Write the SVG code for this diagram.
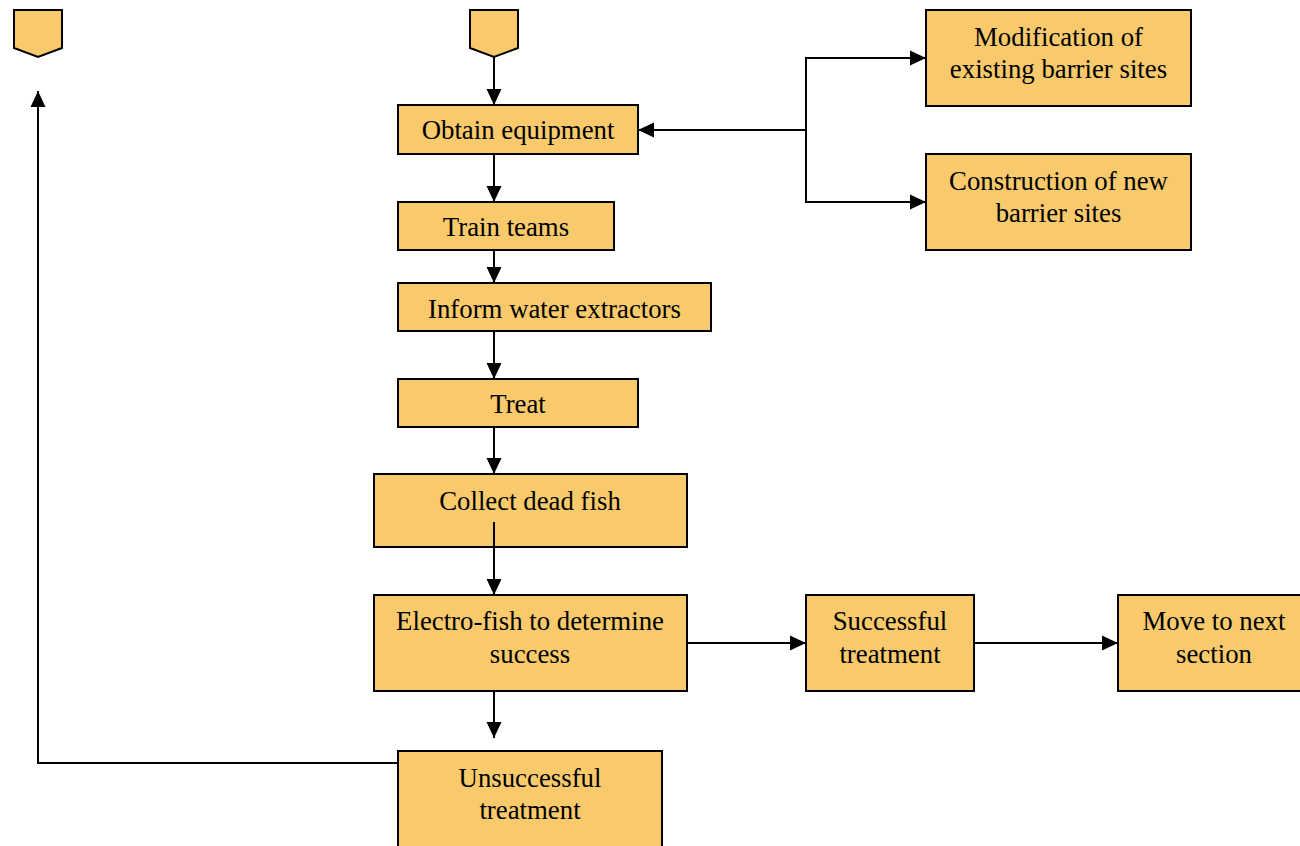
<svg xmlns="http://www.w3.org/2000/svg" width="1300" height="846" viewBox="0 0 1300 846">
  <style>
    .box { fill: #F8CA6C; stroke: #000; stroke-width: 2; }
    .lbl { font-family: "Liberation Serif", "Times New Roman", serif; font-size: 26.8px; fill: #000; text-anchor: middle; }
    .wire { fill: none; stroke: #000; stroke-width: 2; }
    .arrow { marker-end: url(#head); }
  </style>
  <defs>
    <marker id="head" markerUnits="userSpaceOnUse" markerWidth="16" markerHeight="16" viewBox="0 0 16 16" refX="16" refY="8" orient="auto">
      <path d="M0,0.5 L16,8 L0,15.5 Z" fill="#000"/>
    </marker>
  </defs>
  <rect width="1300" height="846" fill="#fff"/>

  <!-- connectors -->
  <g id="connectors">
    <path class="wire arrow" d="M494,57 V105"/>
    <path class="wire arrow" d="M494,154 V202"/>
    <path class="wire arrow" d="M494,250 V283"/>
    <path class="wire arrow" d="M494,331 V379"/>
    <path class="wire arrow" d="M494,427 V474"/>
    <path class="wire arrow" d="M806,130 H638"/>
    <path class="wire arrow" d="M806,130 V58 H926"/>
    <path class="wire arrow" d="M806,130 V202 H926"/>
    <path class="wire arrow" d="M687,643 H806"/>
    <path class="wire arrow" d="M974,643 H1118"/>
    <path class="wire arrow" d="M494,691 V738"/>
    <path class="wire arrow" d="M398,763 H38 V91"/>
  </g>

  <!-- off-page markers -->
  <g id="offpage-left">
    <path class="box" d="M14,10 H62 V48 L38,57 L14,48 Z"/>
  </g>
  <g id="offpage-top">
    <path class="box" d="M470,10 H518 V48 L494,57 L470,48 Z"/>
  </g>

  <g id="obtain-equipment">
    <rect class="box" x="398" y="105" width="240" height="49"/>
    <text class="lbl" x="518" y="139">Obtain equipment</text>
  </g>
  <g id="train-teams">
    <rect class="box" x="398" y="202" width="216" height="48"/>
    <text class="lbl" x="506" y="236">Train teams</text>
  </g>
  <g id="inform-water-extractors">
    <rect class="box" x="398" y="283" width="313" height="48"/>
    <text class="lbl" x="554.5" y="318">Inform water extractors</text>
  </g>
  <g id="treat">
    <rect class="box" x="398" y="379" width="240" height="48"/>
    <text class="lbl" x="518" y="413">Treat</text>
  </g>
  <g id="collect-dead-fish">
    <rect class="box" x="374" y="474" width="313" height="73"/>
    <text class="lbl" x="530" y="510">Collect dead fish</text>
    <path class="wire arrow" d="M494,522 V595"/>
  </g>
  <g id="electro-fish">
    <rect class="box" x="374" y="595" width="313" height="96"/>
    <text class="lbl" x="530" y="630">Electro-fish to determine</text>
    <text class="lbl" x="530" y="663">success</text>
  </g>
  <g id="successful-treatment">
    <rect class="box" x="806" y="595" width="168" height="96"/>
    <text class="lbl" x="890" y="630">Successful</text>
    <text class="lbl" x="890" y="663">treatment</text>
  </g>
  <g id="move-to-next-section">
    <rect class="box" x="1118" y="595" width="192" height="96"/>
    <text class="lbl" x="1214" y="630">Move to next</text>
    <text class="lbl" x="1214" y="663">section</text>
  </g>
  <g id="unsuccessful-treatment">
    <rect class="box" x="398" y="751" width="264" height="110"/>
    <text class="lbl" x="530" y="787">Unsuccessful</text>
    <text class="lbl" x="530" y="819">treatment</text>
  </g>
  <g id="modification-existing">
    <rect class="box" x="926" y="10" width="265" height="96"/>
    <text class="lbl" x="1058.5" y="46">Modification of</text>
    <text class="lbl" x="1058.5" y="78">existing barrier sites</text>
  </g>
  <g id="construction-new">
    <rect class="box" x="926" y="154" width="265" height="96"/>
    <text class="lbl" x="1058.5" y="190">Construction of new</text>
    <text class="lbl" x="1058.5" y="222">barrier sites</text>
  </g>
</svg>
